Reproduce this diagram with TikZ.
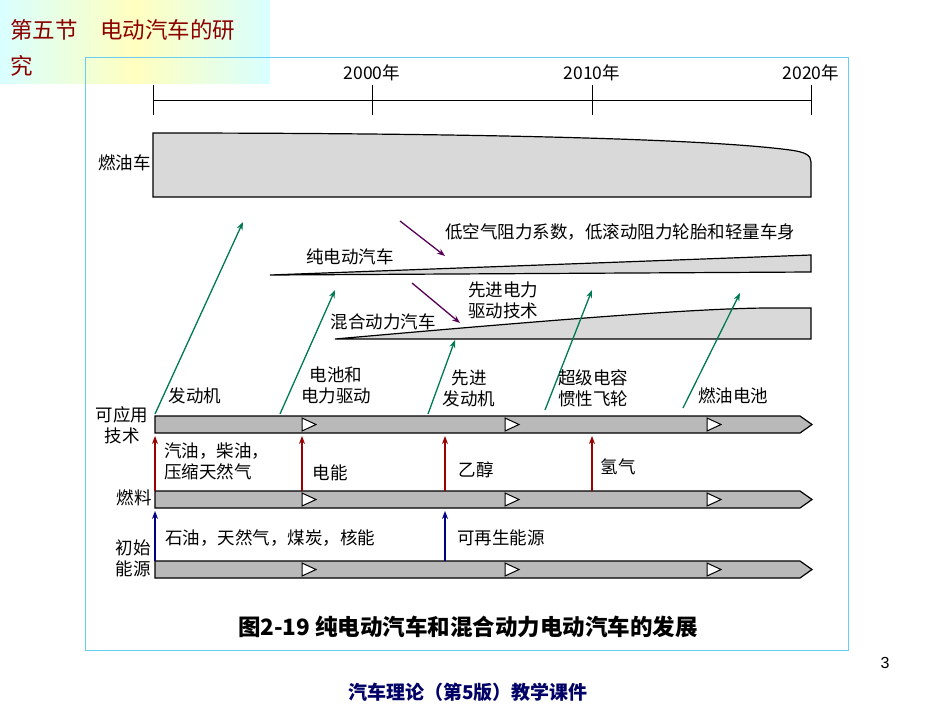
\documentclass[tikz,border=0pt]{standalone}
\usepackage{fontspec}
\setmainfont{Noto Sans CJK SC}
\usetikzlibrary{arrows.meta}
\begin{document}
\begin{tikzpicture}[x=1pt,y=-1pt,
  lbl/.style={font=\fontsize{17.5}{21}\selectfont,align=center,inner sep=0pt},
  gshape/.style={fill=gray!30,draw=black,line width=1.2pt},
  barsty/.style={fill=gray!55,draw=black,line width=1.2pt},
  tri/.style={fill=white,draw=black,line width=1pt},
  garr/.style={-{Stealth[length=8pt,width=6pt]},draw=teal!80!green!80!black,line width=1.3pt},
  rarr/.style={-{Stealth[length=8pt,width=6pt]},draw=red!60!black,line width=1.3pt},
  barr/.style={-{Stealth[length=8pt,width=6pt]},draw=blue!50!black,line width=1.3pt},
  parr/.style={-{Stealth[length=8pt,width=6pt]},draw=violet!70!black,line width=1.3pt}]
\useasboundingbox (0,0) rectangle (950,713);
\fill[white] (0,0) rectangle (950,713);
\shade[left color=cyan!15,right color=cyan!15,middle color=yellow!25] (0,0) rectangle (270,83);
\node[anchor=west,text=red!55!black,font=\fontsize{22.5}{27}\selectfont,inner sep=0pt] (t1) at (10,30) {第五节\quad 电动汽车的研};
\node[anchor=west,text=red!55!black,font=\fontsize{22.5}{27}\selectfont,inner sep=0pt] (t2) at (10,66) {究};
\draw[cyan!60,line width=1pt] (85,57) rectangle (848,650);
% timeline
\draw[line width=1pt] (153,100) -- (811,100);
\foreach \x/\t in {153/,372/2000年,592/2010年,811/2020年}{
  \draw[line width=1pt] (\x,85) -- (\x,115);
  \node[lbl] at (\x,73) {\t};}
% ICE car
\draw[gshape] (153,133) .. controls (450,133) and (700,138) .. (790,150) .. controls (805,152) and (811,155) .. (811,162) -- (811,197) -- (153,197) -- cycle;
\node[lbl,anchor=east] (ice) at (151,163) {燃油车};
% EV
\draw[gshape] (270,275) -- (811,255) -- (811,272) -- cycle;
\node[lbl] (ev) at (350,257) {纯电动汽车};
% hybrid
\draw[gshape] (335,339) .. controls (550,320) and (700,308) .. (770,308) -- (811,308) -- (811,339) -- cycle;
\node[lbl] (hev) at (383,322) {混合动力汽车};
\node[lbl] (n1) at (620,232) {低空气阻力系数，低滚动阻力轮胎和轻量车身};
\node[lbl] (n2) at (503,300) {先进电力\\驱动技术};
\coordinate (p1) at (400,221); \coordinate (p1e) at (445,256);
\coordinate (p2) at (412,283); \coordinate (p2e) at (460,323);
\draw[parr] (p1) -- (p1e);
\draw[parr] (p2) -- (p2e);
% bars
\foreach \y/\n in {416/tb,491/fb,561/eb}{
  \draw[barsty] (155,\y) -- (800,\y) -- (812,\y+8.5) -- (800,\y+17) -- (155,\y+17) -- cycle;
  \foreach \x in {302,505,707}{\draw[tri] (\x,\y+2) -- (\x+14,\y+8.5) -- (\x,\y+15) -- cycle;}
}
\node[lbl] (l1) at (122,425) {可应用\\技术};
\node[lbl] (l2) at (134,498) {燃料};
\node[lbl] (l3) at (133,558) {初始\\能源};
% green arrows
\coordinate (g1) at (155,414); \coordinate (g1e) at (243,222);
\coordinate (g2) at (280,414); \coordinate (g2e) at (335,290);
\coordinate (g3) at (428,414); \coordinate (g3e) at (455,340);
\coordinate (g4) at (545,410); \coordinate (g4e) at (592,290);
\coordinate (g5) at (683,408); \coordinate (g5e) at (740,293);
\foreach \a in {g1,g2,g3,g4,g5}{\draw[garr] (\a) -- (\a e);}
\node[lbl] (a1) at (195,396) {发动机};
\node[lbl] (a2) at (336,385) {电池和\\电力驱动};
\node[lbl] (a3) at (469,388) {先进\\发动机};
\node[lbl] (a4) at (593,388) {超级电容\\惯性飞轮};
\node[lbl] (a5) at (733,396) {燃油电池};
% red arrows
\foreach \x in {155,302,445,592}{\coordinate (r\x) at (\x,491); \coordinate (r\x e) at (\x,436); \draw[rarr] (r\x) -- (r\x e);}
\node[lbl,align=left,anchor=west] (f1) at (164,461) {汽油，柴油，\\压缩天然气};
\node[lbl] (f2) at (330,473) {电能};
\node[lbl] (f3) at (476,470) {乙醇};
\node[lbl] (f4) at (618,467) {氢气};
% blue arrows
\foreach \x in {155,445}{\coordinate (b\x) at (\x,561); \coordinate (b\x e) at (\x,511); \draw[barr] (b\x) -- (b\x e);}
\node[lbl,anchor=west] (e1) at (165,538) {石油，天然气，煤炭，核能};
\node[lbl,anchor=west] (e2) at (457,538) {可再生能源};
\node[font=\fontsize{22.5}{27}\selectfont\bfseries] (cap) at (468,627) {图2-19 纯电动汽车和混合动力电动汽车的发展};
\node[font=\fontspec{Liberation Sans}\fontsize{16}{19}\selectfont] (pg) at (885,663) {3};
\node[text=blue!40!black,font=\fontsize{19}{22}\selectfont\bfseries] (ft) at (468,692) {汽车理论（第5版）教学课件};
\end{tikzpicture}
\end{document}
